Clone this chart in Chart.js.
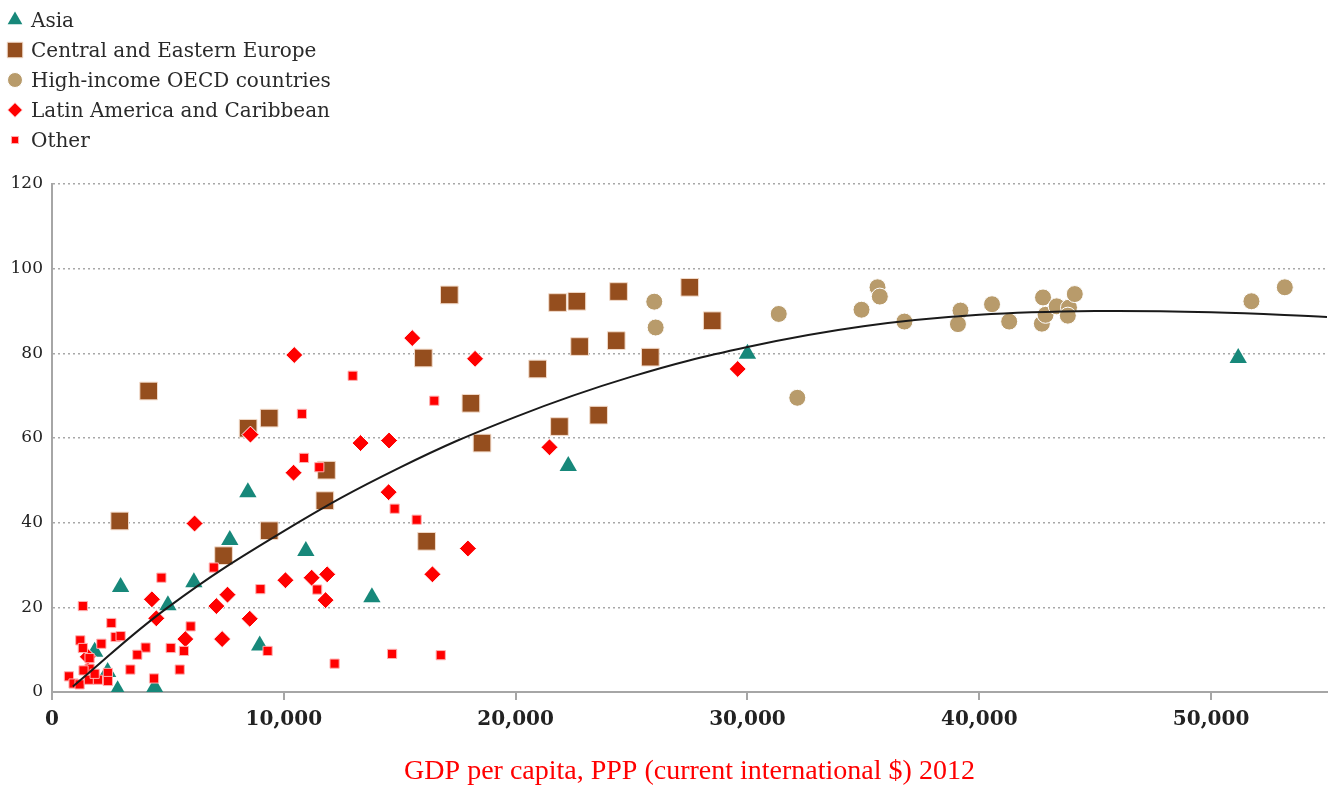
<!DOCTYPE html>
<html>
<head>
<meta charset="utf-8">
<script src="https://cdn.jsdelivr.net/npm/chart.js@4.4.0/dist/chart.umd.min.js"></script>
<style>
    html, body { margin: 0; padding: 0; background: #fff; }
    #wrap { position: relative; width: 1341px; height: 790px; }
    #legend { position: absolute; left: 4px; top: 5px; font-family: 'DejaVu Serif', serif; font-size: 20px; color: #2a2a2a; }
    #legend .item { height: 30px; display: flex; align-items: center; }
    #legend canvas { width: 22px; height: 22px; margin-right: 5px; }
</style>
</head>
<body>
<div id="wrap">
    <canvas id="chart" width="1341" height="790"></canvas>
    <div id="legend"></div>
</div>
<script>
// Data
const asiaX = [51170, 30000, 22270, 13800, 10950, 8450, 7670, 6120, 5000, 2960, 8960, 2830, 4430, 1840, 2400];
const asiaY = [78.9, 79.9, 53.4, 22.4, 33.3, 47.2, 35.9, 25.9, 20.5, 24.8, 11.0, 0.4, 1.1, 9.5, 4.7];

const ceeX = [2920, 4170, 7400, 8460, 9370, 9370, 11840, 11770, 16020, 17140, 18070, 18550, 16160, 20950, 21810, 22640, 21890, 22760, 23580, 24440, 24340, 25810, 27510, 28480];
const ceeY = [40.4, 71.1, 32.2, 62.3, 64.7, 38.1, 52.4, 45.2, 78.9, 93.8, 68.2, 58.8, 35.6, 76.3, 92.0, 92.3, 62.7, 81.6, 65.4, 94.6, 83.0, 79.1, 95.6, 87.7];

const oecdX = [25980, 26040, 31350, 32150, 34920, 35610, 35710, 36770, 39190, 39080, 40550, 41290, 42750, 42700, 42860, 43340, 43870, 43820, 44120, 51740, 53180];
const oecdY = [92.2, 86.1, 89.3, 69.5, 90.3, 95.6, 93.4, 87.5, 90.1, 86.9, 91.6, 87.5, 93.2, 87.0, 89.1, 91.1, 90.8, 88.9, 94.0, 92.3, 95.6];

const latamX = [1545, 4310, 4500, 5750, 6150, 7090, 7340, 7570, 8530, 8560, 10070, 10420, 10450, 11200, 11800, 11870, 13310, 14520, 14540, 15540, 16410, 17940, 18250, 21460, 29580];
const latamY = [8.3, 21.9, 17.4, 12.5, 39.8, 20.3, 12.5, 23.0, 17.3, 60.8, 26.4, 51.8, 79.6, 27.0, 21.7, 27.8, 58.8, 47.2, 59.4, 83.6, 27.8, 33.9, 78.7, 57.8, 76.3];

const otherX = [12970, 16490, 10780, 10870, 11530, 14780, 15730, 6980, 8990, 11440, 9300, 12190, 14670, 16770, 4720, 1330, 2560, 1220, 1330, 2130, 2740, 2960, 4040, 3680, 5120, 5980, 5690, 3380, 5510, 4400, 1620, 1620, 1360, 730, 930, 1190, 1590, 1980, 2410, 2410, 1840];
const otherY = [74.7, 68.8, 65.7, 55.3, 53.1, 43.3, 40.7, 29.4, 24.3, 24.2, 9.7, 6.7, 9.0, 8.7, 27.0, 20.3, 16.3, 12.2, 10.4, 11.4, 13.0, 13.2, 10.5, 8.8, 10.4, 15.5, 9.7, 5.3, 5.3, 3.2, 8.0, 5.5, 5.1, 3.7, 2.0, 1.8, 2.9, 2.9, 4.5, 2.6, 4.3];

// Trend line, read at a few x positions
const trendX = [900, 5000, 10000, 15000, 20000, 25000, 30000, 35000, 40000, 45000, 50000, 55000];
const trendY = [1.3, 20, 38, 53, 65, 74.5, 81.5, 86.4, 89.1, 90.0, 89.7, 88.6];

const xTicks = [0, 10000, 20000, 30000, 40000, 50000];
const yTicks = [0, 20, 40, 60, 80, 100, 120];
const xTitle = 'GDP per capita, PPP (current international $) 2012';

function toPoints(xs, ys) {
    return xs.map((x, i) => ({ x: x, y: ys[i] }));
}

const serif = "'DejaVu Serif', serif";

const datasets = [
    {
        label: 'Asia',
        data: toPoints(asiaX, asiaY),
        pointStyle: 'triangle',
        pointRadius: 10,
        backgroundColor: '#17887a',
        borderColor: '#17887a',
        borderWidth: 0,
        order: 6,
        legendRadius: 8.5
    },
    {
        label: 'Central and Eastern Europe',
        data: toPoints(ceeX, ceeY),
        pointStyle: 'rect',
        pointRadius: 12.5,
        backgroundColor: '#954e1e',
        borderColor: '#f3dccb',
        borderWidth: 1,
        order: 5,
        legendRadius: 11
    },
    {
        label: 'High-income OECD countries',
        data: toPoints(oecdX, oecdY),
        pointStyle: 'circle',
        pointRadius: 8.5,
        backgroundColor: '#b89b6b',
        borderColor: '#ffffff',
        borderWidth: 1,
        order: 4,
        legendRadius: 7.5
    },
    {
        label: 'Latin America and Caribbean',
        data: toPoints(latamX, latamY),
        pointStyle: 'rectRot',
        pointRadius: 8.5,
        backgroundColor: '#ff0000',
        borderColor: '#ffffff',
        borderWidth: 1,
        order: 3,
        legendRadius: 7.5
    },
    {
        label: 'Other',
        data: toPoints(otherX, otherY),
        pointStyle: 'rect',
        pointRadius: 6.5,
        backgroundColor: '#ff0000',
        borderColor: '#ffb0b0',
        borderWidth: 1,
        order: 2,
        legendRadius: 5
    },
    {
        label: 'Trend',
        type: 'line',
        data: toPoints(trendX, trendY),
        showLine: true,
        borderColor: '#1a1a1a',
        borderWidth: 2,
        pointRadius: 0,
        tension: 0.4,
        fill: false,
        order: 1,
        hideInLegend: true
    }
];

const ctx = document.getElementById('chart').getContext('2d');
const chart = new Chart(ctx, {
    type: 'scatter',
    data: { datasets: datasets },
    options: {
        responsive: false,
        animation: false,
        layout: { padding: { left: 0, right: 14, top: 184, bottom: 0 } },
        plugins: {
            legend: { display: false },
            tooltip: { enabled: false }
        },
        scales: {
            x: {
                type: 'linear',
                min: 0,
                max: 55000,
                afterFit: s => { s.height = 98; },
                afterBuildTicks: s => { s.ticks = xTicks.map(v => ({ value: v })); },
                ticks: {
                    includeBounds: false,
                    padding: 8,
                    color: '#222',
                    font: { family: serif, size: 20, weight: 'bold' },
                    callback: v => v.toLocaleString('en-US')
                },
                grid: {
                    drawOnChartArea: false,
                    drawTicks: true,
                    tickLength: 8,
                    color: '#a6a6a6',
                    lineWidth: 2
                },
                border: { display: true, color: '#a6a6a6', width: 2 },
                title: {
                    display: true,
                    text: xTitle,
                    color: '#ff0000',
                    font: { family: "'Liberation Serif', serif", size: 28 },
                    padding: { top: 0, bottom: 2 }
                }
            },
            y: {
                min: 0,
                max: 120,
                afterFit: s => { s.width = 52; },
                afterBuildTicks: s => { s.ticks = yTicks.map(v => ({ value: v })); },
                ticks: {
                    padding: 9,
                    color: '#222',
                    font: { family: serif, size: 17 }
                },
                grid: {
                    drawTicks: false,
                    color: '#a8a8a8',
                    lineWidth: 1.5
                },
                border: { display: true, color: '#a6a6a6', width: 2, dash: [2, 3] }
            }
        }
    }
});

// Build vertical legend from the datasets
function buildLegend() {
    const box = document.getElementById('legend');
    datasets.forEach(ds => {
        if (ds.hideInLegend) return;
        const item = document.createElement('div');
        item.className = 'item';
        const icon = document.createElement('canvas');
        icon.width = 22;
        icon.height = 22;
        const ictx = icon.getContext('2d');
        ictx.fillStyle = ds.backgroundColor;
        ictx.strokeStyle = ds.borderColor;
        ictx.lineWidth = ds.borderWidth;
        Chart.helpers.drawPoint(ictx, {
            pointStyle: ds.pointStyle,
            radius: ds.legendRadius,
            rotation: 0,
            borderWidth: ds.borderWidth
        }, 11, 11);
        const text = document.createElement('span');
        text.textContent = ds.label;
        item.appendChild(icon);
        item.appendChild(text);
        box.appendChild(item);
    });
}
buildLegend();
</script>
</body>
</html>
